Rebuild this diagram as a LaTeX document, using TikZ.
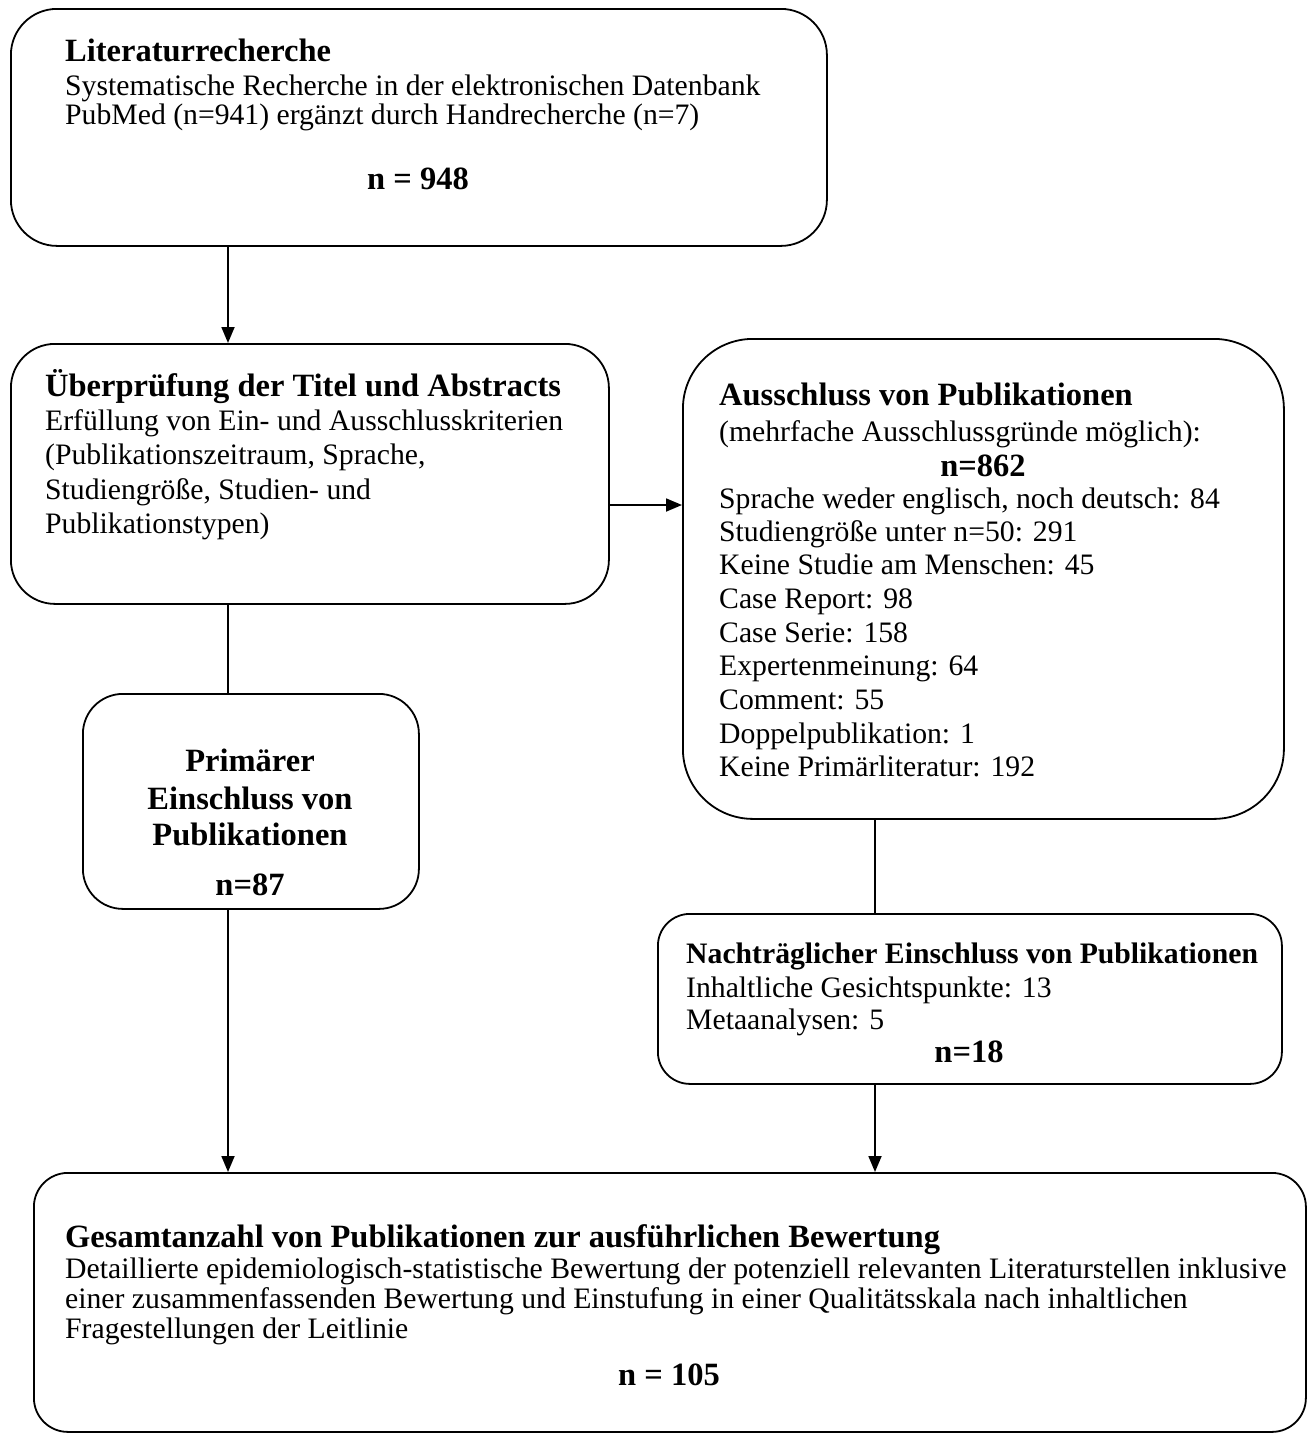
\documentclass[tikz,border=0pt]{standalone}
\usepackage{fontspec}
\setmainfont{Liberation Serif}
\usetikzlibrary{arrows.meta}
\begin{document}
\begin{tikzpicture}[x=1pt,y=-1pt,
  box/.style={draw, line width=1.8pt, inner sep=0pt, anchor=north west},
  txt/.style={anchor=base west, inner sep=0pt, font=\fontsize{29.7}{30}\selectfont},
  ttl/.style={anchor=base west, inner sep=0pt, font=\fontsize{32.5}{32}\selectfont\bfseries},
  ttls/.style={anchor=base west, inner sep=0pt, font=\fontsize{29.7}{30}\selectfont\bfseries},
  num/.style={anchor=base, inner sep=0pt, font=\fontsize{32.5}{32}\selectfont\bfseries},
  conn/.style={line width=1.8pt},
  arr/.style={line width=1.8pt, -{Triangle[length=16pt,width=13pt]}}]
\useasboundingbox (0,0) rectangle (1309,1435);

% boxes
\node[box, rounded corners=46pt, minimum width=816pt, minimum height=237pt] (b1) at (10,8) {};
\node[box, rounded corners=44pt, minimum width=598pt, minimum height=260pt] (b2) at (10,343) {};
\node[box, rounded corners=70pt, minimum width=601pt, minimum height=480pt] (b3) at (682,338) {};
\node[box, rounded corners=40pt, minimum width=336pt, minimum height=215pt] (b4) at (82,693) {};
\node[box, rounded corners=32pt, minimum width=624pt, minimum height=170pt] (b5) at (657,913) {};
\node[box, rounded corners=34pt, minimum width=1272pt, minimum height=259pt] (b6) at (33,1172) {};

% box 1
\node[ttl] (t1a) at (65,61) {Literaturrecherche};
\node[txt] (t1b) at (65,95) {Systematische Recherche in der elektronischen Datenbank};
\node[txt] (t1c) at (65,124) {PubMed (n=941) ergänzt durch Handrecherche (n=7)};
\node[num] (t1d) at (418,189) {n = 948};

% box 2
\node[ttl] (t2a) at (45,396) {Überprüfung der Titel und Abstracts};
\node[txt] (t2b) at (45,430) {Erfüllung von Ein- und Ausschlusskriterien};
\node[txt] (t2c) at (45,464) {(Publikationszeitraum, Sprache,};
\node[txt] (t2d) at (45,499) {Studiengröße, Studien- und};
\node[txt] (t2e) at (45,533) {Publikationstypen)};

% box 3
\node[ttl] (t3a) at (719,405) {Ausschluss von Publikationen};
\node[txt] (t3b) at (719,441) {(mehrfache Ausschlussgründe möglich):};
\node[num] (t3c) at (983,476) {n=862};
\node[txt] (t3d) at (719,508) {Sprache weder englisch, noch deutsch: 84};
\node[txt] (t3e) at (719,541) {Studiengröße unter n=50: 291};
\node[txt] (t3f) at (719,574) {Keine Studie am Menschen: 45};
\node[txt] (t3g) at (719,608) {Case Report: 98};
\node[txt] (t3h) at (719,642) {Case Serie: 158};
\node[txt] (t3i) at (719,675) {Expertenmeinung: 64};
\node[txt] (t3j) at (719,709) {Comment: 55};
\node[txt] (t3k) at (719,743) {Doppelpublikation: 1};
\node[txt] (t3l) at (719,776) {Keine Primärliteratur: 192};

% box 4
\node[num] (t4a) at (250,771) {Primärer};
\node[num] (t4b) at (250,809) {Einschluss von};
\node[num] (t4c) at (250,845) {Publikationen};
\node[num] (t4d) at (250,895) {n=87};

% box 5
\node[ttls] (t5a) at (686,963) {Nachträglicher Einschluss von Publikationen};
\node[txt] (t5b) at (686,997) {Inhaltliche Gesichtspunkte: 13};
\node[txt] (t5c) at (686,1029) {Metaanalysen: 5};
\node[num] (t5d) at (969,1062) {n=18};

% box 6
\node[ttl] (t6a) at (65,1247) {Gesamtanzahl von Publikationen zur ausführlichen Bewertung};
\node[txt] (t6b) at (65,1278) {Detaillierte epidemiologisch-statistische Bewertung der potenziell relevanten Literaturstellen inklusive};
\node[txt] (t6c) at (65,1308) {einer zusammenfassenden Bewertung und Einstufung in einer Qualitätsskala nach inhaltlichen};
\node[txt] (t6d) at (65,1338) {Fragestellungen der Leitlinie};
\node[num] (t6e) at (669,1385) {n = 105};

% connector guides
\coordinate (xl) at (228,0);
\coordinate (xr) at (875,0);
\coordinate (ym) at (0,505);

\draw[arr] (b1.south -| xl) -- (b2.north -| xl);
\draw[arr] (b2.east |- ym) -- (b3.west |- ym);
\draw[conn] (b2.south -| xl) -- (b4.north -| xl);
\draw[conn] (b3.south -| xr) -- (b5.north -| xr);
\draw[arr] (b4.south -| xl) -- (b6.north -| xl);
\draw[arr] (b5.south -| xr) -- (b6.north -| xr);
\end{tikzpicture}
\end{document}
